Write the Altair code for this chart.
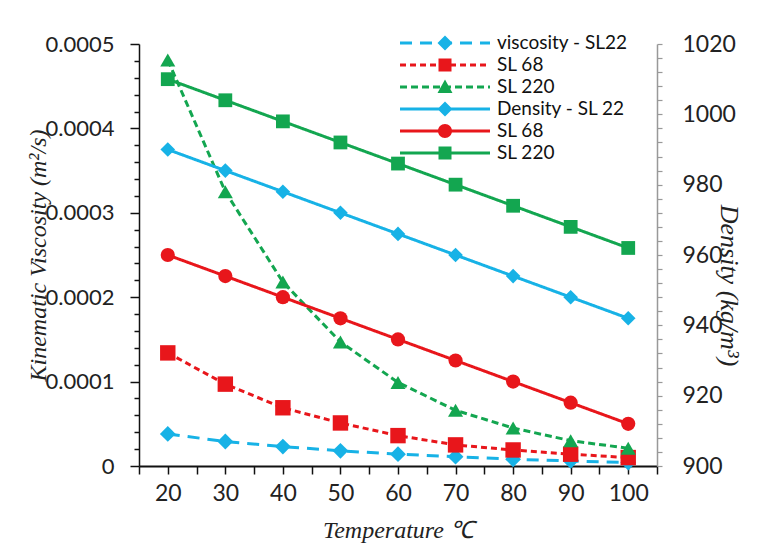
import altair as alt
import pandas as pd

# ---------------- data ----------------
temps = [20, 30, 40, 50, 60, 70, 80, 90, 100]

visc_sl22 = [0.000038, 0.000029, 0.000023, 0.000018, 0.000014, 0.000011, 0.000008, 0.000006, 0.000004]
visc_sl68 = [0.000134, 0.000097, 0.000069, 0.000051, 0.000036, 0.000025, 0.000019, 0.000014, 0.000010]
visc_sl220 = [0.000481, 0.000325, 0.000218, 0.000147, 0.000099, 0.000066, 0.000045, 0.000030, 0.000021]

dens_sl22 = [990, 984, 978, 972, 966, 960, 954, 948, 942]
dens_sl68 = [960, 954, 948, 942, 936, 930, 924, 918, 912]
dens_sl220 = [1010, 1004, 998, 992, 986, 980, 974, 968, 962]

series_keys = ["visc22", "visc68", "visc220", "dens22", "dens68", "dens220"]
series_labels = ["viscosity - SL22", "SL 68", "SL 220", "Density - SL 22", "SL 68", "SL 220"]

# ---------------- styles ----------------
BLUE, RED, GREEN = "#17B2E6", "#E8161B", "#13A650"
colors = [BLUE, RED, GREEN, BLUE, RED, GREEN]
dashes = [[12, 8], [6, 4], [7, 4], [1, 0], [1, 0], [1, 0]]
shapes = ["diamond", "square", "triangle-up", "diamond", "circle", "square"]
sizes = [250, 190, 240, 250, 200, 190]

LABEL_FONT = "Lato"
TITLE_FONT = "Liberation Serif"

visc_rows = []
for key, vals in zip(series_keys[:3], [visc_sl22, visc_sl68, visc_sl220]):
    for t, v in zip(temps, vals):
        visc_rows.append({"temp": t, "series": key, "visc": v})
visc_df = pd.DataFrame(visc_rows)

dens_rows = []
for key, vals in zip(series_keys[3:], [dens_sl22, dens_sl68, dens_sl220]):
    for t, v in zip(temps, vals):
        dens_rows.append({"temp": t, "series": key, "dens": v})
dens_df = pd.DataFrame(dens_rows)

legend_df = pd.DataFrame({"series": series_keys})

# ---------------- legend symbols (line + marker glyphs) ----------------
SYM = 400.0                 # nominal legend symbol area (20 px box)
U = SYM ** 0.5 / 2          # px per path unit
C = SYM ** 0.5 / 2          # symbol centre, px from entry left
LINE_LEN = 90.0             # px
T = 1.5                     # half line thickness, px


def p(v):
    return f"{v / U:.4f}"


def rect(x0, x1, t):
    x0, x1 = x0 - C, x1 - C
    return f"M{p(x0)},{p(-t)}H{p(x1)}V{p(t)}H{p(x0)}Z"


def line_path(pattern):
    d, g = pattern
    if g == 0:
        return rect(0, LINE_LEN, T)
    parts, x = [], 0.0
    while x < LINE_LEN:
        x1 = min(x + d, LINE_LEN)
        parts.append(rect(x, x1, T))
        x = x1 + g
    return "".join(parts)


def marker_path(kind):
    m = LINE_LEN / 2 - C
    if kind == "diamond":
        h = 7.5
        return f"M{p(m)},{p(-h)}L{p(m + h)},0L{p(m)},{p(h)}L{p(m - h)},0Z"
    if kind == "square":
        s = 6.5
        return f"M{p(m - s)},{p(-s)}H{p(m + s)}V{p(s)}H{p(m - s)}Z"
    if kind == "triangle-up":
        h = 7.5
        return f"M{p(m)},{p(-h)}L{p(m + h)},{p(0.8 * h)}L{p(m - h)},{p(0.8 * h)}Z"
    r = 7.0
    return (f"M{p(m - r)},0A{p(r)},{p(r)} 0 1 1 {p(m + r)},0"
            f"A{p(r)},{p(r)} 0 1 1 {p(m - r)},0Z")


legend_paths = [line_path(d) + marker_path(s) for d, s in zip(dashes, shapes)]

label_expr = ""
for k, lab in zip(series_keys, series_labels):
    label_expr += f"datum.value == '{k}' ? '{lab}' : "
label_expr += "datum.label"

# ---------------- axes ----------------
x_axis = alt.Axis(
    values=list(range(15, 106, 5)),
    labelExpr="(datum.value % 10 == 0 && datum.value >= 20 && datum.value <= 100) ? datum.label : ''",
    grid=False, domainColor="#111", domainWidth=2, tickColor="#111", tickWidth=1.5, tickSize=8,
    labelFont=LABEL_FONT, labelFontSize=23, labelColor="#222", labelPadding=8,
    title="Temperature ℃", titleFont=TITLE_FONT, titleFontSize=24, titleFontStyle="italic",
    titleFontWeight="normal", titleColor="#222", titleX=259, titleY=64, titleBaseline="middle",
    titleAlign="center",
)

major_visc = "abs(round(datum.value * 10000) - datum.value * 10000) < 0.000001"
left_axis = alt.Axis(
    orient="left",
    values=[round(i * 0.00002, 6) for i in range(26)],
    labelExpr=f"{major_visc} ? format(datum.value, '.4~f') : ''",
    grid=False, domainColor="#111", domainWidth=1.5, tickColor="#111", tickWidth=1.5,
    tickSize={"condition": {"test": major_visc, "value": 9}, "value": 5},
    labelFont=LABEL_FONT, labelFontSize=22, labelColor="#222", labelPadding=16,
    title="Kinematic Viscosity (m²/s)", titleFont=TITLE_FONT, titleFontSize=24,
    titleFontStyle="italic", titleFontWeight="normal", titleColor="#222",
    titleAngle=270, titleX=-101, titleY=211, titleAlign="center", titleBaseline="middle",
)

right_axis = alt.Axis(
    orient="right",
    values=list(range(900, 1021, 4)),
    format="d",
    labelExpr="datum.value % 20 == 0 ? datum.label : ''",
    grid=False, domainColor="#999", domainWidth=1.5, tickColor="#999", tickWidth=1.2,
    tickSize=5,
    labelFont=LABEL_FONT, labelFontSize=23, labelColor="#222", labelPadding=20,
    title="Density (kg/m³)", titleFont=TITLE_FONT, titleFontSize=26,
    titleFontStyle="italic", titleFontWeight="normal", titleColor="#222",
    titleAngle=90, titleX=71, titleY=241, titleAlign="center", titleBaseline="middle",
)

x_enc = alt.X("temp:Q", scale=alt.Scale(domain=[15, 105], nice=False, zero=False), axis=x_axis)
color_enc = alt.Color("series:N", scale=alt.Scale(domain=series_keys, range=colors), legend=None)
dash_enc = alt.StrokeDash("series:N", scale=alt.Scale(domain=series_keys, range=dashes), legend=None)
shape_enc = alt.Shape("series:N", scale=alt.Scale(domain=series_keys, range=shapes), legend=None)
size_enc = alt.Size("series:N", scale=alt.Scale(domain=series_keys, range=sizes), legend=None)

y_visc = alt.Y("visc:Q", scale=alt.Scale(domain=[0, 0.0005], nice=False), axis=left_axis)
y_dens = alt.Y("dens:Q", scale=alt.Scale(domain=[900, 1020], nice=False, zero=False), axis=right_axis)

visc_base = alt.Chart(visc_df)
visc_layer = alt.layer(
    visc_base.mark_line(strokeWidth=3).encode(x=x_enc, y=y_visc, color=color_enc, strokeDash=dash_enc),
    visc_base.mark_point(filled=True, opacity=1).encode(x=x_enc, y=y_visc, color=color_enc,
                                                         shape=shape_enc, size=size_enc),
)

dens_base = alt.Chart(dens_df)
dens_layer = alt.layer(
    dens_base.mark_line(strokeWidth=3).encode(x=x_enc, y=y_dens, color=color_enc, strokeDash=dash_enc),
    dens_base.mark_point(filled=True, opacity=1).encode(x=x_enc, y=y_dens, color=color_enc,
                                                         shape=shape_enc, size=size_enc),
)

legend_def = alt.Legend(
    title=None, orient="none", legendX=261, legendY=-11, padding=0,
    symbolSize=SYM, symbolStrokeWidth=0, labelExpr=label_expr,
    labelFont=LABEL_FONT, labelFontSize=19, labelColor="#111",
    labelOffset=LINE_LEN + 7 - 2 * C,
    rowPadding=2,
)
legend_layer = alt.Chart(legend_df).transform_filter("false").mark_point(
    filled=True, opacity=1
).encode(
    color=alt.Color("series:N", scale=alt.Scale(domain=series_keys, range=colors), legend=legend_def),
    shape=alt.Shape("series:N", scale=alt.Scale(domain=series_keys, range=legend_paths), legend=legend_def),
)

chart = alt.layer(visc_layer, dens_layer, legend_layer).resolve_scale(
    y="independent", shape="independent", color="independent"
).properties(
    width=518, height=422,
    autosize=alt.AutoSizeParams(type="none"),
    padding={"left": 139, "top": 44, "right": 100, "bottom": 81},
    background="white",
).configure_view(strokeWidth=0)

chart.save("out.html", embed_options={"renderer": "svg", "actions": False})
